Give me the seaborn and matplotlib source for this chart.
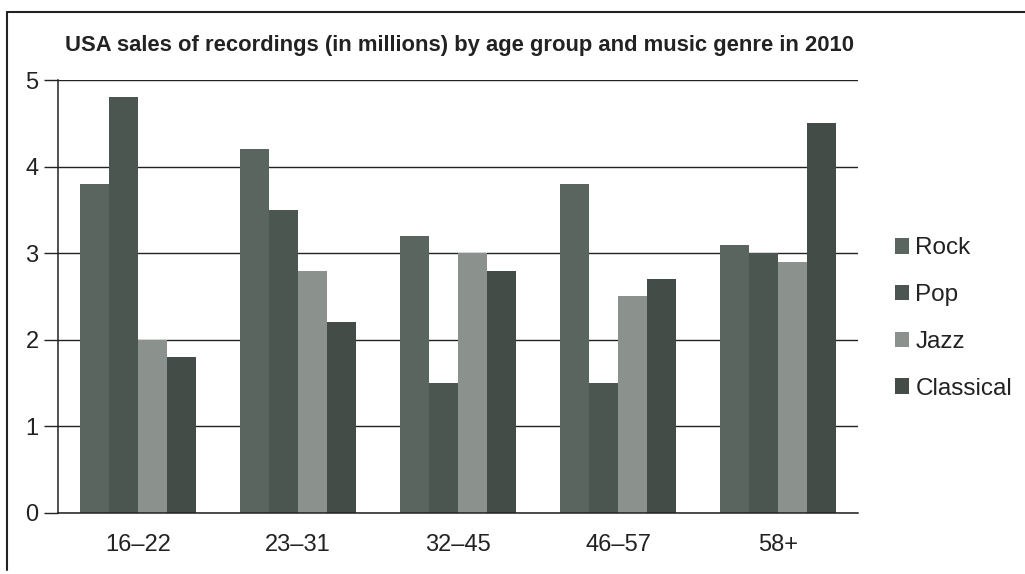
import matplotlib
matplotlib.use("Agg")
import matplotlib.pyplot as plt
import seaborn as sns
import pandas as pd
import numpy as np
from matplotlib.lines import Line2D
from matplotlib.patches import Patch

age_groups = ["16–22", "23–31", "32–45", "46–57", "58+"]
genres = ["Rock", "Pop", "Jazz", "Classical"]
rock = [3.8, 4.2, 3.2, 3.8, 3.1]
pop = [4.8, 3.5, 1.5, 1.5, 3.0]
jazz = [2.0, 2.8, 3.0, 2.5, 2.9]
classical = [1.8, 2.2, 2.8, 2.7, 4.5]
yticks = [0, 1, 2, 3, 4, 5]
title = "USA sales of recordings (in millions) by age group and music genre in 2010"

colors = ["#5b6560", "#4c5650", "#8b918c", "#434c47"]

rows = []
for g, vals in zip(genres, [rock, pop, jazz, classical]):
    for a, v in zip(age_groups, vals):
        rows.append({"Age": a, "Genre": g, "Sales": v})
df = pd.DataFrame(rows)

sns.set_theme(style="white")
plt.rcParams["font.family"] = ["Liberation Sans", "DejaVu Sans"]

fig = plt.figure(figsize=(10.25, 5.74), dpi=100)
fig.patch.set_facecolor("white")
ax = fig.add_axes([0.0566, 0.1063, 0.7805, 0.7543])

sns.barplot(data=df, x="Age", y="Sales", hue="Genre", order=age_groups,
            hue_order=genres, palette=colors, width=0.725, gap=0,
            saturation=1, errorbar=None, ax=ax, legend=False,
            edgecolor="none", linewidth=0)

ax.set_xlim(-0.5, 4.5)
ax.set_ylim(0, 5)
ax.set_yticks(yticks)
ax.set_yticklabels([str(t) for t in yticks], fontsize=17, color="#222222")
ax.yaxis.grid(True, color="#222222", linewidth=1.0)
ax.set_axisbelow(True)
ax.set_xlabel("")
ax.set_ylabel("")
ax.set_xticks(range(len(age_groups)))
ax.set_xticklabels(age_groups, fontsize=17, color="#222222")
ax.set_xticks(np.arange(-0.5, 4.6, 1.0), minor=True)
ax.tick_params(axis="x", which="major", length=0, pad=15)
ax.tick_params(axis="x", which="minor", length=8, width=1.2, color="#222222", direction="out")
ax.tick_params(axis="y", which="major", length=10, width=1.0, color="#222222", left=True, pad=4)
for s in ["top", "right"]:
    ax.spines[s].set_visible(False)
for s in ["left", "bottom"]:
    ax.spines[s].set_visible(True)
    ax.spines[s].set_color("#222222")
    ax.spines[s].set_linewidth(1.1)

fig.text(0.063, 0.921, title, fontsize=15.8, fontweight="bold",
         family=["Liberation Sans Narrow", "Liberation Sans", "DejaVu Sans"],
         color="#222222", ha="left", va="center")

handles = [Patch(facecolor=c, edgecolor="none") for c in colors]
fig.legend(handles, genres, loc="center left", bbox_to_anchor=(0.873, 0.445),
           frameon=False, fontsize=17.5, handlelength=0.6, handleheight=0.6,
           handletextpad=0.25, labelspacing=1.02, labelcolor="#222222",
           borderpad=0, borderaxespad=0)

# outer frame lines (left and top)
fig.add_artist(Line2D([0.007, 0.007], [0.007, 0.979], color="#222222", linewidth=1.5))
fig.add_artist(Line2D([0.007, 1.0], [0.979, 0.979], color="#222222", linewidth=1.5))

fig.savefig("out.png", dpi=100)
